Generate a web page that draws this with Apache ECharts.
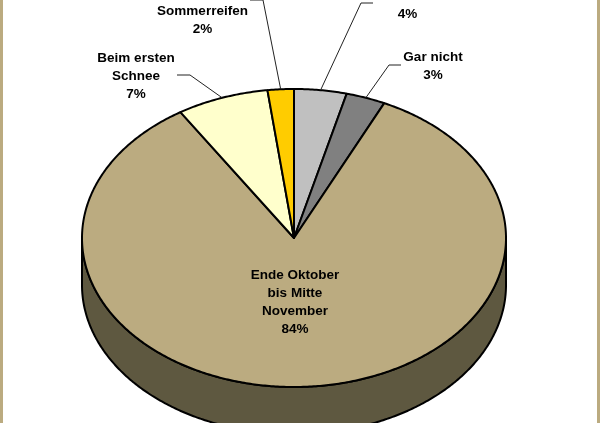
<!DOCTYPE html>
<html><head><meta charset="utf-8">
<style>html,body{margin:0;padding:0;background:#fff}#c{width:600px;height:423px}</style>
<script src="https://cdn.jsdelivr.net/npm/echarts@6/dist/echarts.min.js"></script>
</head><body><div id="c"></div>
<script>
// clockwise from 12 o'clock; the first slice's name is cropped off the top of the reference and cannot be read
const categories = ['', 'Gar nicht', 'Ende Oktober\nbis Mitte\nNovember', 'Beim ersten\nSchnee', 'Sommerreifen'];
const values = [4, 3, 84, 7, 2];
const sliceColors = ['#C0C0C0', '#808080', '#BBAB80', '#FFFFCC', '#FFCC00'];
const sideColors = ['#606060', '#404040', '#5E5840', '#808066', '#806600'];
// label anchor (centre x, y of first line), leader elbow and leader end
const labelPlace = [
  {x: 407.5, y: -4, elbow: [361, 3], end: [373, 3]},
  {x: 433, y: 57.5, elbow: [389, 65], end: [401, 65]},
  {x: 295, y: 275.5, elbow: null, end: null},
  {x: 136, y: 58.5, elbow: [190, 75], end: [177, 75]},
  {x: 202.5, y: 11.5, elbow: [263, 0], end: [250, 0]}
];
const CX = 294, CY = 238, RX = 212, RY = 149, DEPTH = 47, LH = 18;
const total = values.reduce((a, b) => a + b, 0);
const startFrac = values.map((v, i) => values.slice(0, i).reduce((a, b) => a + b, 0) / total);
const pt = a => [CX + RX * Math.sin(a), CY - RY * Math.cos(a)];
function arc(a0, a1) {
  const n = Math.max(2, Math.ceil((a1 - a0) / 0.01)), out = [];
  for (let k = 0; k <= n; k++) out.push(pt(a0 + (a1 - a0) * k / n));
  return out;
}
const line = {stroke: '#000', lineWidth: 2, lineJoin: 'round'};
const font = '700 13.5px "Liberation Sans", Arial, sans-serif';

function renderSide(params, api) {
  const i = params.dataIndex, v = api.value(0);
  const a0 = startFrac[i] * 2 * Math.PI, a1 = a0 + v / total * 2 * Math.PI;
  const lo = Math.max(a0, Math.PI / 2), hi = Math.min(a1, 3 * Math.PI / 2);
  if (hi <= lo) return {type: 'group', children: []};
  const top = arc(lo, hi), bottom = top.map(p => [p[0], p[1] + DEPTH]).reverse();
  return {type: 'polygon', shape: {points: top.concat(bottom)},
    style: Object.assign({fill: sideColors[i]}, line)};
}
function renderTop(params, api) {
  const i = params.dataIndex, v = api.value(0);
  const a0 = startFrac[i] * 2 * Math.PI, a1 = a0 + v / total * 2 * Math.PI;
  const children = [{type: 'polygon', shape: {points: [[CX, CY]].concat(arc(a0, a1))},
    style: Object.assign({fill: sliceColors[i]}, line)}];
  const p = labelPlace[i];
  if (p.elbow) children.push({type: 'polyline',
    shape: {points: [pt((a0 + a1) / 2), p.elbow, p.end]},
    style: {stroke: '#222', lineWidth: 1, fill: null}});
  const lines = (categories[i] + '\n' + v + '%').split('\n');
  lines.forEach((t, k) => children.push({type: 'text', z2: 10, style: {
    text: t, x: p.x, y: p.y + k * LH, font, fill: '#000', align: 'center', verticalAlign: 'middle'}}));
  return {type: 'group', children};
}
const chart = echarts.init(document.getElementById('c'), null, {renderer: 'canvas'});
const seriesData = values.map((v, i) => ({name: categories[i], value: [v]}));
chart.setOption({
  animation: false,
  backgroundColor: '#fff',
  graphic: [
    {type: 'rect', left: 0, top: 0, shape: {width: 3, height: 423}, style: {fill: '#BBAB80'}},
    {type: 'rect', right: 0, top: 0, shape: {width: 3, height: 423}, style: {fill: '#BBAB80'}}
  ],
  series: [
    {type: 'custom', coordinateSystem: 'none', renderItem: renderSide, data: seriesData, z: 1, silent: true, clip: false},
    {type: 'custom', coordinateSystem: 'none', renderItem: renderTop, data: seriesData, z: 2, silent: true, clip: false}
  ]
});
</script></body></html>
